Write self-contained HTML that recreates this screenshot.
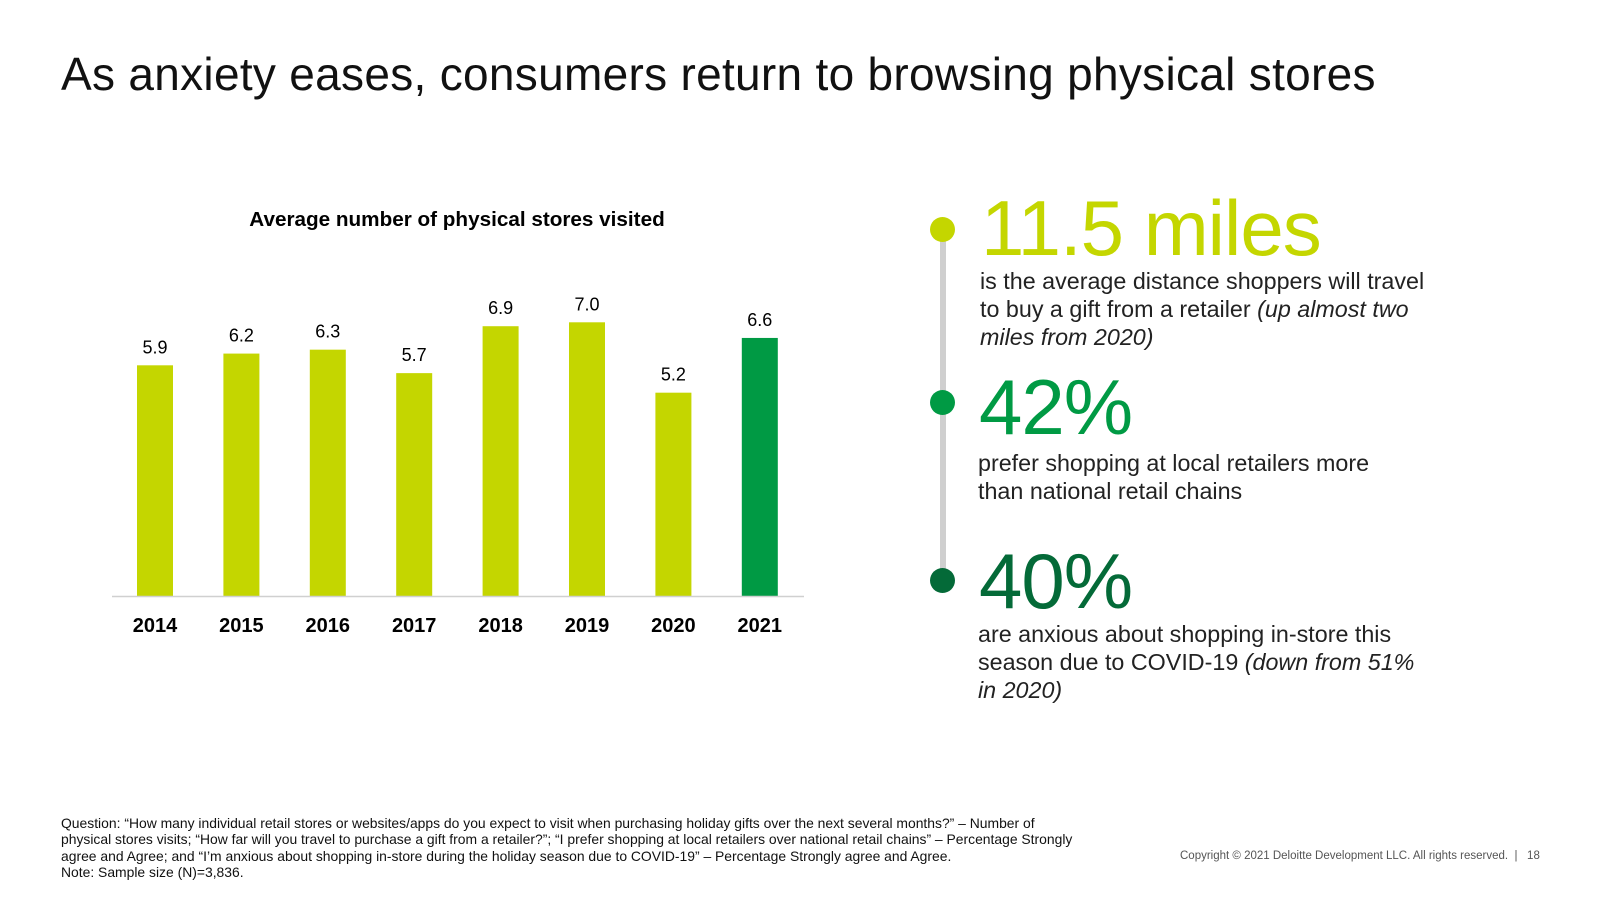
<!DOCTYPE html>
<html><head><meta charset="utf-8"><style>
body{margin:0;width:1600px;height:900px;background:#fff;font-family:"Liberation Sans",sans-serif;position:relative;overflow:hidden;color:#000}
.a{position:absolute;white-space:nowrap}
.big{font-size:78px;line-height:78px;letter-spacing:-1px}
.desc{font-size:23.3px;line-height:28px;color:#222}
.dot{position:absolute;width:25px;height:25px;border-radius:50%;left:930px}
</style></head><body>
<div class="a" style="left:61px;top:47px;font-size:46px;letter-spacing:0.3px;color:#111">As anxiety eases, consumers return to browsing physical stores</div>
<svg class="a" style="left:0;top:0" width="880" height="680">
<text x="457" y="226" text-anchor="middle" font-size="20.7" font-weight="bold">Average number of physical stores visited</text>
<g id="bars"></g>
<line x1="112" x2="804" y1="596.5" y2="596.5" stroke="#d0d0d0" stroke-width="1.5"/>
</svg>
<div class="a" style="left:940px;top:229px;width:6px;height:352px;background:#cfcfcf"></div>
<div class="dot" style="top:217px;background:#c4d600"></div>
<div class="dot" style="top:390px;background:#009a44"></div>
<div class="dot" style="top:568px;background:#046a38"></div>
<div class="a big" style="left:981px;top:189px;color:#c4d600">11.5 miles</div>
<div class="a desc" style="left:980px;top:267px">is the average distance shoppers will travel<br>to buy a gift from a retailer <i>(up almost two<br>miles from 2020)</i></div>
<div class="a big" style="left:979px;top:368px;color:#009a44">42%</div>
<div class="a desc" style="left:978px;top:449px">prefer shopping at local retailers more<br>than national retail chains</div>
<div class="a big" style="left:979px;top:542px;color:#046a38">40%</div>
<div class="a desc" style="left:978px;top:620px">are anxious about shopping in-store this<br>season due to COVID-19 <i>(down from 51%<br>in 2020)</i></div>
<div class="a" style="left:61px;top:815px;font-size:13.9px;line-height:16.3px;color:#111">Question: “How many individual retail stores or websites/apps do you expect to visit when purchasing holiday gifts over the next several months?” – Number of<br>physical stores visits; “How far will you travel to purchase a gift from a retailer?”; “I prefer shopping at local retailers over national retail chains” – Percentage Strongly<br>agree and Agree; and “I’m anxious about shopping in-store during the holiday season due to COVID-19” – Percentage Strongly agree and Agree.<br>Note: Sample size (N)=3,836.</div>
<div class="a" style="left:1180px;top:850px;font-size:11.5px;color:#555">Copyright © 2021 Deloitte Development LLC. All rights reserved. &nbsp;| &nbsp; 18</div>
<script>
const categories=["2014","2015","2016","2017","2018","2019","2020","2021"];
const values=[5.9,6.2,6.3,5.7,6.9,7.0,5.2,6.6];
const labels=["5.9","6.2","6.3","5.7","6.9","7.0","5.2","6.6"];
const ns="http://www.w3.org/2000/svg";
const g=document.getElementById("bars");
const x0=155,step=86.4,base=596,k=39.1,bw=36;
const xs=i=>x0+i*step, ys=v=>base-v*k;
categories.forEach((c,i)=>{
 const r=document.createElementNS(ns,"rect");
 r.setAttribute("x",xs(i)-bw/2);r.setAttribute("y",ys(values[i]));
 r.setAttribute("width",bw);r.setAttribute("height",base-ys(values[i]));
 r.setAttribute("fill",i===categories.length-1?"#009a44":"#c4d600");
 
 
 g.appendChild(r);
 const t=document.createElementNS(ns,"text");
 t.setAttribute("x",xs(i));t.setAttribute("y",ys(values[i])-12);
 t.setAttribute("text-anchor","middle");t.setAttribute("font-size","18");
 t.textContent=labels[i];
 
 
 g.appendChild(t);
 const l=document.createElementNS(ns,"text");
 l.setAttribute("x",xs(i));l.setAttribute("y",632);
 l.setAttribute("text-anchor","middle");l.setAttribute("font-size","20");l.setAttribute("font-weight","bold");
 l.textContent=c;
 
 
 g.appendChild(l);
});
</script>
</body></html>
